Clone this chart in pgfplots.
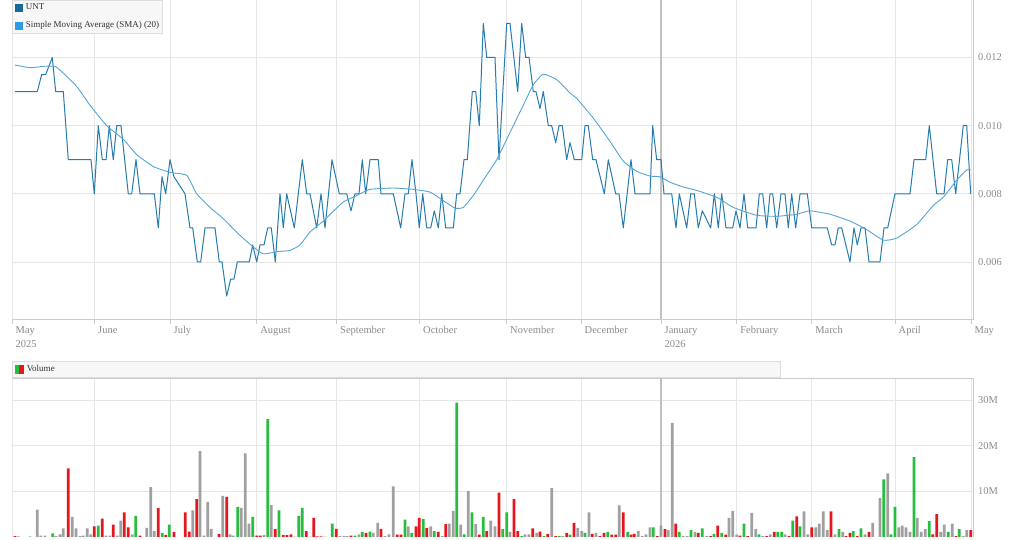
\documentclass[border=0pt]{standalone}
\usepackage{pgfplots}
\pgfplotsset{compat=1.18}
\usepackage{fontspec}
\setmainfont{Liberation Serif}
\definecolor{gridgray}{HTML}{E6E6E6}
\definecolor{axisgray}{HTML}{CCCCCC}
\definecolor{yeargray}{HTML}{C0C0C0}
\definecolor{labgray}{HTML}{8C8C8C}
\definecolor{legbg}{HTML}{F7F7F7}
\definecolor{legborder}{HTML}{DDDDDD}
\definecolor{untline}{RGB}{38,124,174}
\definecolor{untsq}{RGB}{26,105,155}
\definecolor{smaline}{RGB}{85,165,212}
\definecolor{smasq}{RGB}{44,155,229}
\definecolor{volgreen}{RGB}{38,190,60}
\definecolor{volred}{RGB}{228,22,30}
\definecolor{volgray}{RGB}{160,160,160}
\begin{document}
\begin{tikzpicture}
\fill[white] (0,0) rectangle (1015pt,540pt);
\useasboundingbox (0,0) rectangle (1015pt,540pt);
\pgfplotsset{
  monthgrid/.style={
    xmin=12, xmax=973.5,
    xtick={12,94.5,170,256.7,336.5,419.5,506.5,581,736.7,811.7,895,971},
    extra x ticks={661},
    extra x tick style={grid style={draw=yeargray, line width=1.3pt}},
    xmajorgrids, ymajorgrids,
    grid style={draw=gridgray, line width=0.8pt},
    scale only axis, width=961.5pt,
    scaled x ticks=false, scaled y ticks=false,
    x axis line style={draw=axisgray, line width=0.8pt, -},
    y axis line style={draw=axisgray, line width=0.8pt, -},
    ytick style={draw=none},
    yticklabel style={anchor=west, inner sep=0pt, xshift=4.5pt, font=\fontsize{10.5}{12}\selectfont, text=labgray},
  }
}
% ---------------- price panel ----------------
\begin{axis}[monthgrid,
  at={(12pt,221pt)}, anchor=south west, height=319pt,
  ymin=0.004327, ymax=0.013687,
  axis x line*=bottom, axis y line*=right,
  xticklabels={{May\\2025},June,July,August,September,October,November,December,February,March,April,May},
  extra x tick labels={{January\\2026}},
  xtick style={draw=axisgray, line width=0.8pt},
  xtick align=outside, major tick length=5pt,
  xticklabel style={anchor=north west, align=left, inner sep=0pt, xshift=3.5pt, yshift=-2.5pt, font=\fontsize{10.5}{14.4}\selectfont, text=labgray},
  ytick={0.006,0.008,0.010,0.012},
  yticklabels={0.006,0.008,0.010,0.012},
  legend style={at={(0,1)}, anchor=north west, fill=legbg, draw=legborder, line width=0.6pt,
    inner xsep=3pt, inner ysep=3.2pt, row sep=9.2pt, column sep=3pt,
    font=\fontsize{9}{11}\selectfont, text=black!80,
    nodes={inner sep=0pt, text height=6.5pt, text depth=2pt}},
  legend cell align=left,
]
\addlegendimage{legend image code/.code={\fill[untsq] (0pt,-3.5pt) rectangle (7pt,3.5pt);}}
\addlegendentry{UNT}
\addlegendimage{legend image code/.code={\fill[smasq] (0pt,-3.5pt) rectangle (7pt,3.5pt);}}
\addlegendentry{Simple Moving Average (SMA) (20)}
\addplot[untline, line width=1pt, line join=round, forget plot] coordinates {
(15,0.011)(37.3,0.011)(41.7,0.0115)(45.7,0.0115)(52.3,0.012)(55.7,0.011)(63.3,0.011)(68.3,0.009)(91,0.009)(94.3,0.008)(98.3,0.010)(102.3,0.009)(106,0.009)(109.3,0.010)(113.3,0.009)(116.7,0.010)(121,0.010)(128.3,0.008)(131.7,0.008)(136,0.009)(140,0.008)(154.3,0.008)(158.3,0.007)(162,0.0085)(165.7,0.008)(170,0.009)(174,0.0085)(185,0.008)(190,0.007)(192.7,0.007)(197.3,0.006)(200.7,0.006)(205,0.007)(215,0.007)(219.3,0.006)(222,0.006)(226.7,0.005)(230.7,0.0055)(234,0.0055)(237.3,0.006)(249.3,0.006)(252.7,0.0065)(256.7,0.006)(260,0.0065)(264,0.0065)(267.7,0.007)(271.3,0.007)(275.3,0.006)(280,0.008)(283.3,0.007)(286.7,0.008)(294.3,0.007)(302.3,0.009)(306.7,0.008)(310,0.008)(316.7,0.007)(321,0.008)(325,0.007)(332,0.009)(339.3,0.008)(346.7,0.008)(351,0.0075)(355,0.008)(359,0.008)(362.3,0.009)(365.7,0.008)(370,0.009)(378.3,0.009)(381,0.008)(393.3,0.008)(400.7,0.007)(405,0.008)(408.3,0.008)(412,0.009)(416,0.008)(419.3,0.007)(422.7,0.008)(426.7,0.007)(430.7,0.007)(434.3,0.0075)(438.3,0.007)(441.7,0.008)(445.7,0.007)(453.3,0.007)(456.7,0.008)(460,0.008)(464,0.009)(467.3,0.009)(472.3,0.011)(475.7,0.011)(479.3,0.010)(483.3,0.013)(486.7,0.012)(495,0.012)(499,0.009)(506.7,0.013)(510,0.013)(517.7,0.011)(521.7,0.013)(525.7,0.012)(529,0.012)(533.3,0.011)(536,0.011)(540,0.0105)(543.3,0.011)(548.3,0.010)(551.7,0.010)(555.7,0.0095)(559,0.010)(562.3,0.010)(566.7,0.009)(570,0.0095)(574.3,0.009)(581.7,0.009)(585,0.010)(588.3,0.010)(592.7,0.009)(596,0.009)(604.3,0.008)(608.3,0.009)(615.7,0.008)(619,0.008)(623.3,0.007)(631,0.009)(635,0.008)(650,0.008)(652.7,0.010)(656.7,0.009)(661,0.009)(664,0.008)(671.7,0.008)(676,0.007)(679.3,0.008)(686.7,0.007)(690.7,0.008)(694.3,0.008)(698.3,0.007)(702.3,0.0075)(710.7,0.007)(714.3,0.008)(718.3,0.007)(721.7,0.008)(726,0.007)(732.7,0.007)(736,0.0075)(740,0.007)(744,0.008)(747.7,0.007)(756,0.007)(759.3,0.008)(762.7,0.008)(766.7,0.007)(770,0.008)(772.7,0.008)(776.7,0.007)(781,0.008)(785,0.008)(788.3,0.007)(791.7,0.008)(795.7,0.007)(800,0.008)(807.3,0.008)(811.7,0.007)(827.3,0.007)(831.7,0.0065)(835,0.0065)(838.3,0.007)(841.7,0.007)(850,0.006)(854,0.007)(857.3,0.0065)(861,0.007)(865,0.007)(869,0.006)(880,0.006)(884,0.007)(887.7,0.007)(895,0.008)(910,0.008)(914,0.009)(925.7,0.009)(929.3,0.010)(936.7,0.008)(944,0.008)(947.7,0.009)(951.7,0.009)(955.7,0.008)(963.3,0.010)(966.7,0.010)(970.7,0.008)
};
\addplot[smaline, line width=0.9pt, smooth, tension=0.3, forget plot] coordinates {
(15,0.01178)(30,0.0117)(43.3,0.01174)(55,0.01174)(63.3,0.01154)(76.7,0.01115)(90,0.0106)(106.7,0.0100)(123.3,0.0096)(136.7,0.00915)(153.3,0.0088)(170,0.00863)(186.7,0.00854)(196.7,0.0080)(210,0.0076)(223.3,0.00727)(240,0.00678)(253.3,0.00644)(263.3,0.00624)(276.7,0.0063)(290,0.00634)(300,0.0065)(310,0.00688)(323.3,0.0072)(332,0.00745)(343.3,0.00776)(356.7,0.00795)(370,0.00813)(393.3,0.00817)(413.3,0.00813)(430,0.00805)(443.3,0.0078)(455,0.00758)(463.3,0.0076)(473.3,0.00795)(483.3,0.0084)(496.7,0.0090)(510,0.0098)(523.3,0.0106)(533.3,0.0112)(543.3,0.01151)(556.7,0.01135)(570,0.01096)(576.7,0.0108)(593.3,0.01022)(610,0.00954)(623.3,0.00896)(636.7,0.00866)(650,0.00852)(660,0.0085)(670,0.00834)(683.3,0.0082)(696.7,0.0081)(716.7,0.0079)(733.3,0.0076)(756.7,0.00737)(776.7,0.00734)(796.7,0.0074)(810,0.0075)(830,0.0074)(850,0.0072)(866.7,0.00695)(883.3,0.00664)(896.7,0.0067)(916.7,0.0071)(933.3,0.00766)(943.3,0.0079)(956.7,0.0084)(966.7,0.0087)(970.7,0.0087)
};
\end{axis}
% ---------------- volume panel ----------------
\begin{axis}[monthgrid,
  at={(12pt,3pt)}, anchor=south west, height=159pt,
  ymin=0, ymax=34.8,
  axis x line*=top, axis y line*=right,
  xticklabels={}, extra x tick labels={},
  xtick style={draw=none},
  ytick={10,20,30},
  yticklabels={10M,20M,30M},
  legend style={at={(0,1)}, anchor=south west, fill=legbg, draw=legborder, line width=0.6pt,
    inner xsep=3pt, inner ysep=4pt, column sep=3pt,
    font=\fontsize{9}{11}\selectfont, text=black!80,
    nodes={inner sep=0pt, text height=6.5pt, text depth=2pt, text width=750pt}},
  legend cell align=left,
]
\addlegendimage{legend image code/.code={\fill[volgreen] (0pt,-4pt) rectangle (4pt,4pt);\fill[volred] (4pt,-4pt) rectangle (8pt,4pt);}}
\addlegendentry{Volume}
\addplot[ybar, bar width=2.7, bar shift=0pt, fill=volgreen, draw=none, forget plot] coordinates {
(52.7,0.8)(98.3,2.5)(135.7,4.6)(162.3,0.9)(169.3,2.7)(237.7,6.6)(252.7,4.4)(267.7,25.8)(279,5.8)(298.7,4.6)(302.3,6.4)(332.3,2.9)(355,0.3)(362.3,1.1)(370,1.2)(405,3.8)(411.7,0.9)(423.3,3.9)(434.3,1.3)(456.7,29.4)(464.3,0.6)(472,5.4)(483.3,4.4)(502.7,1.7)(506.7,5.4)(521.7,0.2)(544,0.2)(559.3,0.2)(570,0.5)(585,0.9)(607.7,1.1)(627.7,1.1)(653.3,2.1)(679.3,1.1)(691,1.5)(702.3,1.9)(714,0.7)(721.7,0.9)(744,2.9)(759,0.6)(777.7,1.1)(781.7,1.1)(792.7,3.6)(800,2.3)(839,1.7)(853.3,1.3)(861,1.9)(883.7,12.6)(891,0.6)(895,6.6)(914,17.5)(929.3,3.5)(948.3,1.1)(959.3,1.7)
};
\addplot[ybar, bar width=2.7, bar shift=0pt, fill=volred, draw=none, forget plot] coordinates {
(15,0.2)(68.3,15)(94.3,2.3)(102.3,4.0)(113.3,2.7)(124.3,5.4)(128.3,2.1)(140,0.3)(158.3,6.3)(165.7,0.4)(174,1.1)(185.3,5.4)(189.3,1.2)(196.7,8.3)(219,0.7)(226.7,8.8)(256.7,0.3)(260.3,0.3)(275.3,1.75)(283.3,0.4)(287,0.4)(291,0.6)(306.3,1.3)(313.7,4.2)(317.3,0.15)(321,0.15)(336.3,1.8)(351,0.3)(366,0.9)(381,1.8)(397.3,0.5)(401,0.5)(416,2.3)(419.3,4.2)(426.7,2.0)(438.3,1.1)(445.7,2.8)(479.3,0.5)(486.7,1.3)(499,9.7)(514,8.3)(517.7,1.3)(532.7,1.9)(540,1.2)(547.7,0.7)(555.7,0.2)(566.7,0.9)(574,3.1)(592.3,0.7)(600,0.2)(604,0.9)(611.7,0.5)(615.7,0.5)(623.3,5.4)(631,0.5)(634.3,0.7)(657.3,0.2)(665,1.75)(675.7,2.9)(698.3,0.9)(710.7,0.2)(717.7,2.5)(725.7,0.5)(740,0.3)(747.7,0.2)(766.7,0.2)(774.3,1.1)(789,0.2)(796.7,4.5)(811.7,2.1)(831,5.6)(846,0.2)(850,0.9)(857.3,0.2)(869,1.1)(932.7,0.6)(936.7,5.0)(956,0.2)(970.7,1.5)
};
\addplot[ybar, bar width=2.7, bar shift=0pt, fill=volgray, draw=none, forget plot] coordinates {
(18.3,0.15)(30,0.15)(37.3,6.0)(40.7,0.3)(45,0.3)(56,0.2)(60,0.6)(63.3,1.9)(72.3,4.4)(76,1.9)(80,0.2)(83.3,0.3)(87.3,1.9)(90.7,0.6)(106,0.3)(110,0.3)(117.3,0.3)(120.7,3.6)(132.3,0.6)(146.7,2.0)(150.7,10.9)(154.3,1.3)(192.7,5.8)(200,18.8)(204,0.3)(207.7,7.7)(211.3,1.8)(222.7,9.0)(230,0.6)(233.3,0.3)(241.3,6.4)(245.3,18.3)(249,2.9)(264,0.4)(271.3,7.0)(295,0.1)(310,0.1)(325,0.1)(340,0.2)(344,0.2)(347.3,0.2)(359,0.6)(373.3,0.9)(377.7,3.1)(385,0.2)(389,0.6)(393.3,11.1)(408.3,2.3)(430.7,2.3)(442.3,0.2)(449.3,2.9)(453.3,5.7)(460.7,2.7)(468.3,10.1)(475.7,2.8)(490.7,3.6)(495,2.3)(510,1.1)(525,0.6)(529,0.6)(536.7,0.9)(551.7,10.7)(562.7,0.2)(577.7,2.0)(581.7,1.3)(589,5.4)(596,0.9)(619.3,6.9)(638.3,1.3)(642.3,0.2)(646,0.6)(650,2.1)(661,2.5)(668.3,1.5)(672.3,25)(683.3,0.2)(687.3,0.2)(695,1.1)(706.7,0.2)(729,4.2)(732.7,5.7)(736.7,0.5)(751.7,5.3)(755.7,1.75)(762.7,0.2)(770.3,0.6)(785,0.6)(804,5.6)(807.7,0.6)(815.7,2.1)(819.3,2.9)(823.3,5.6)(827.3,1.5)(835,0.6)(842.7,1.1)(865,0.6)(872.7,3.1)(880,8.5)(887.7,13.9)(898.7,2.1)(902.3,2.5)(906,2.1)(910,1.1)(917.3,4.2)(921.3,1.1)(925.3,1.75)(940.7,1.1)(944.3,2.7)(952.3,2.9)(963.3,0.2)(966.7,1.5)
};
\end{axis}
\end{tikzpicture}
\end{document}
